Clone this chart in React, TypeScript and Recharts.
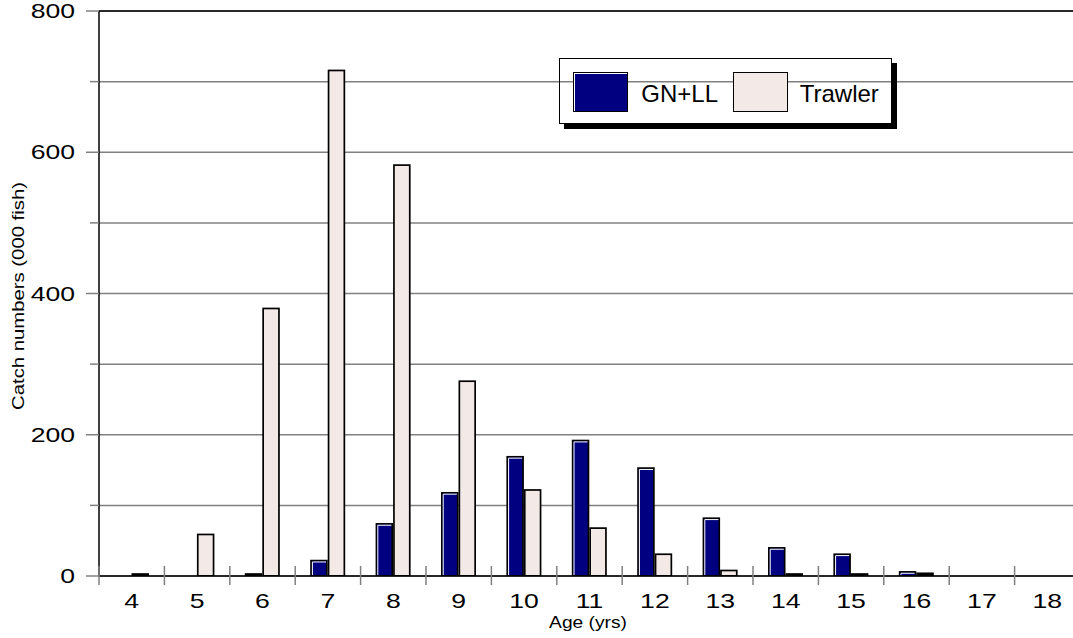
import React from 'react';
import { BarChart, Bar, XAxis, YAxis, CartesianGrid, ReferenceLine, Legend, Label } from 'recharts';

const ages = ['4', '5', '6', '7', '8', '9', '10', '11', '12', '13', '14', '15', '16', '17', '18'];
const gnll = [0, 0, 4, 23, 75, 119, 170, 193, 154, 83, 41, 32, 7, 0, 0];
const trawler = [4, 60, 380, 717, 583, 277, 123, 69, 32, 9, 4, 4, 5, 0, 0];
const yTicks = [0, 100, 200, 300, 400, 500, 600, 700, 800];
const yLabelTicks = [0, 200, 400, 600, 800];

const data = ages.map((age, i) => ({ age, gnll: gnll[i], trawler: trawler[i] }));

const FONT = '"Liberation Sans", Arial, Helvetica, sans-serif';
const NAVY = '#000080';
const PINK = '#F3EAE8';
const GRAY = '#808080';

const W = 1090;
const H = 638;
const MARGIN = { top: 11, right: 10, bottom: 32, left: 39 };
const Y_AXIS_W = 60;
const X_AXIS_H = 30;
const PLOT_W = W - MARGIN.left - Y_AXIS_W - MARGIN.right;
const BAND = PLOT_W / ages.length;

function BarShape(props: any) {
  const { x, y, width, height, fill, highlight } = props;
  if (height == null || !(height > 0.5)) return null;
  const b = 1.7;
  if (height <= 2 * b + 1) {
    return <rect x={x} y={y} width={width} height={height} fill="#000" />;
  }
  return (
    <g>
      <rect x={x} y={y} width={width} height={height} fill="#000" />
      <rect x={x + b} y={y + b} width={width - 2 * b} height={height - b - 1} fill={fill} />
      {highlight && (
        <path
          d={`M${x + b + 0.5},${y + height - 1} V${y + b + 0.5} H${x + width - b}`}
          stroke="#fff"
          strokeWidth={1}
          fill="none"
        />
      )}
    </g>
  );
}

function XTick(props: any) {
  const { x, y, payload } = props;
  const bx = x - BAND / 2;
  return (
    <g>
      <line x1={bx} x2={bx} y1={y - 10} y2={y + 9} stroke={GRAY} strokeWidth={1.5} />
      <text
        transform={`translate(${x},${y + 32}) scale(1.33,1)`}
        textAnchor="middle"
        fontFamily={FONT}
        fontSize={20}
        fill="#000"
      >
        {payload.value}
      </text>
    </g>
  );
}

function YTick(props: any) {
  const { x, y, payload } = props;
  const major = yLabelTicks.includes(payload.value);
  return (
    <g>
      <line x1={x - (major ? 13 : 9)} x2={x} y1={y} y2={y} stroke={GRAY} strokeWidth={1.5} />
      {major && (
        <text
          transform={`translate(${x - 24},${y + 7.2}) scale(1.33,1)`}
          textAnchor="end"
          fontFamily={FONT}
          fontSize={20}
          fill="#000"
        >
          {payload.value}
        </text>
      )}
    </g>
  );
}

function Swatch({ left, fill, highlight }: any) {
  return (
    <div
      style={{
        position: 'absolute',
        left,
        top: 12.5,
        width: 55,
        height: 40,
        boxSizing: 'border-box',
        border: '1.7px solid #000',
        background: fill,
        boxShadow: highlight ? 'inset 1px 1px 0 #fff' : 'none',
      }}
    />
  );
}

function LegendBox(props: any) {
  const items = props.payload || [];
  const swatchLeft = [12.5, 172.5];
  const textLeft = [81.3, 239.7];
  return (
    <div
      style={{
        position: 'relative',
        width: 333,
        height: 66,
        boxSizing: 'border-box',
        border: '1.5px solid #000',
        boxShadow: '5px 5px 0 #000',
        fontFamily: FONT,
        fontSize: 24,
        color: '#000',
      }}
    >
      {items.map((it: any, i: number) => (
        <React.Fragment key={it.value}>
          <Swatch left={swatchLeft[i]} fill={it.color} highlight={i === 0} />
          <span style={{ position: 'absolute', left: textLeft[i], top: 23.2, lineHeight: '24px', whiteSpace: 'nowrap' }}>
            {it.value}
          </span>
        </React.Fragment>
      ))}
    </div>
  );
}

export default function App() {
  return (
    <div
      style={{
        position: 'absolute',
        left: 0,
        top: 0,
        width: 1073,
        height: 638,
        overflow: 'hidden',
        background: '#fff',
      }}
    >
      <BarChart width={W} height={H} data={data} margin={MARGIN} barGap={0} barSize={17.5}>
        <CartesianGrid horizontal vertical={false} stroke={GRAY} strokeWidth={1.5} />
        <ReferenceLine y={800} stroke="#000" strokeWidth={1.5} />
        <Bar
          dataKey="gnll"
          name="GN+LL"
          fill={NAVY}
          isAnimationActive={false}
          shape={(p: any) => <BarShape {...p} fill={NAVY} highlight />}
        />
        <Bar
          dataKey="trawler"
          name="Trawler"
          fill={PINK}
          isAnimationActive={false}
          shape={(p: any) => <BarShape {...p} fill={PINK} highlight={false} />}
        />
        <XAxis
          dataKey="age"
          height={X_AXIS_H}
          interval={0}
          tickSize={0}
          tickMargin={0}
          tickLine={false}
          axisLine={{ stroke: '#000', strokeWidth: 1.5 }}
          tick={<XTick />}
        >
          <Label
            content={() => (
              <text
                transform="translate(588,628) scale(1.2,1)"
                textAnchor="middle"
                fontFamily={FONT}
                fontSize={16}
                fill="#000"
              >
                Age (yrs)
              </text>
            )}
          />
        </XAxis>
        <YAxis
          type="number"
          domain={[0, 800]}
          ticks={yTicks}
          interval={0}
          width={Y_AXIS_W}
          tickSize={0}
          tickMargin={0}
          tickLine={false}
          axisLine={{ stroke: '#000', strokeWidth: 1.5 }}
          tick={<YTick />}
        >
          <Label
            content={() => (
              <text
                transform="translate(24,296) rotate(-90) scale(1.27,1)"
                textAnchor="middle"
                fontFamily={FONT}
                fontSize={16}
                fill="#000"
              >
                Catch numbers (000 fish)
              </text>
            )}
          />
        </YAxis>
        <Legend
          layout="vertical"
          align="center"
          verticalAlign="middle"
          wrapperStyle={{ left: 559, top: 58, width: 333, height: 66 }}
          content={<LegendBox />}
        />
      </BarChart>
    </div>
  );
}
